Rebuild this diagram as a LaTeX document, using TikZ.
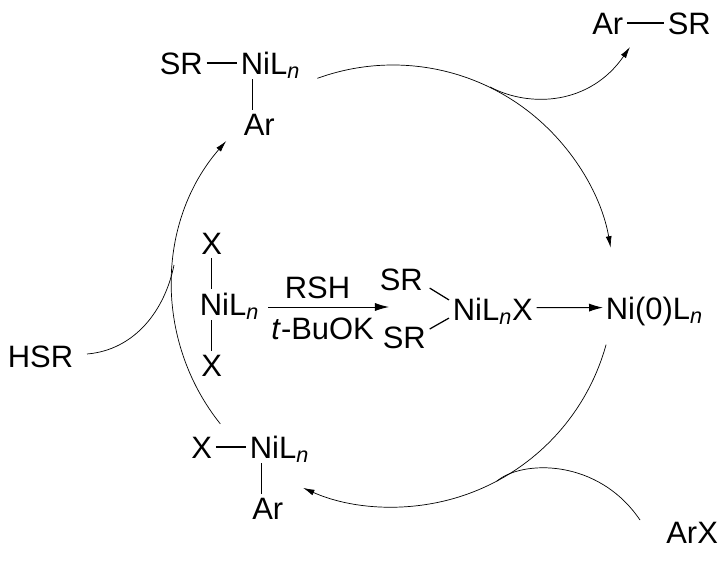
\documentclass[tikz,border=0pt]{standalone}
\usepackage{fontspec}
\setmainfont{Liberation Sans}
\usetikzlibrary{arrows.meta}
\newcommand{\NiLn}{NiL\textsubscript{\textit{n}}}
\tikzset{
  chem/.style={anchor=base west,inner sep=2pt,font=\fontsize{17.6}{20}\selectfont},
  bond/.style={line width=0.7pt},
  rxn/.style={line width=0.55pt,-{Latex[length=8pt,width=4.6pt]}},
  curve/.style={line width=0.4pt},
  cycle/.style={curve,-{Latex[length=6.5pt,width=3.4pt]}}
}
\begin{document}
\begin{tikzpicture}[x=0.02cm,y=-0.02cm]
\useasboundingbox (0,0) rectangle (727,561);
\coordinate (cyc) at (393,286);
% complexes and products
\node[chem] (ar1) at (588.5,34) {Ar};
\node[chem] (sr1) at (664,34) {SR};
\node[chem] (sr2) at (156,74) {SR};
\node[chem] (ni2) at (237,74) {\NiLn};
\node[chem] (ar2) at (240,135) {Ar};
\node[chem] (x3) at (197.5,254) {X};
\node[chem] (ni3) at (196,315) {\NiLn};
\node[chem] (x4) at (197.5,376) {X};
\node[chem] (rsh) at (281,298) {RSH};
\node[chem] (tbu) at (267.5,339) {\textit{t}-BuOK};
\node[chem] (sr3) at (376,290) {SR};
\node[chem] (sr4) at (379,348) {SR};
\node[chem] (ni4) at (449,320) {\NiLn X};
\node[chem] (ni0) at (602,319) {Ni(0)L\textsubscript{\textit{n}}};
\node[chem] (x5) at (187.5,458) {X};
\node[chem] (ni5) at (246,458) {\NiLn};
\node[chem] (ar5) at (248.5,519) {Ar};
\node[chem] (hsr) at (4,367) {HSR};
\node[chem] (arx) at (662.5,543) {ArX};
% bonds
\foreach \a/\b in {ar1/sr1,sr2/ni2,x5/ni5} {
  \draw[bond] ([yshift=6.3pt]\a.base east) -- ([yshift=6.3pt]\b.base west);
}
\foreach \a/\b in {ni2/ar2,ni3/x4,ni5/ar5} {
  \draw[bond] ([shift={(9pt,-3pt)}]\a.base west) -- ([xshift=9pt]\a.base west |- \b.north);
}
\draw[bond] (x3.south) -- (x3.south |- ni3.north);
\draw[bond] ([shift={(1.7pt,1.1pt)}]sr3.base east) -- ([shift={(0pt,11.4pt)}]ni4.base west);
\draw[bond] ([shift={(0pt,10.8pt)}]sr4.base east) -- ([shift={(0pt,1.1pt)}]ni4.base west);
% straight arrows
\coordinate (rxa) at (268,307);
\coordinate (rxb) at (389,307);
\draw[rxn] (rxa) -- (rxb);
\draw[rxn] ([yshift=7pt]ni4.base east) -- ([shift={(0.6pt,6.5pt)}]ni0.base west);
% cycle
\foreach \a/\b in {250/350,15.4/114,141.4/221} {
  \draw[cycle] ([shift={(\a:221)}]cyc) arc[start angle=\a,end angle=\b,radius=221];
}
% branches
\coordinate (ja) at (490,87);
\coordinate (jb) at (497,481);
\coordinate (jc) at (174,265);
\coordinate (enda) at (630,47);
\coordinate (endb) at (640,520);
\coordinate (endc) at (87,354);
\draw[cycle] (ja) .. controls (530,108) and (590,105) .. (enda);
\draw[curve] (jb) .. controls (522,460) and (598,458) .. (endb);
\draw[curve] (endc) .. controls (135,350) and (165,310) .. (jc);
\end{tikzpicture}
\end{document}
